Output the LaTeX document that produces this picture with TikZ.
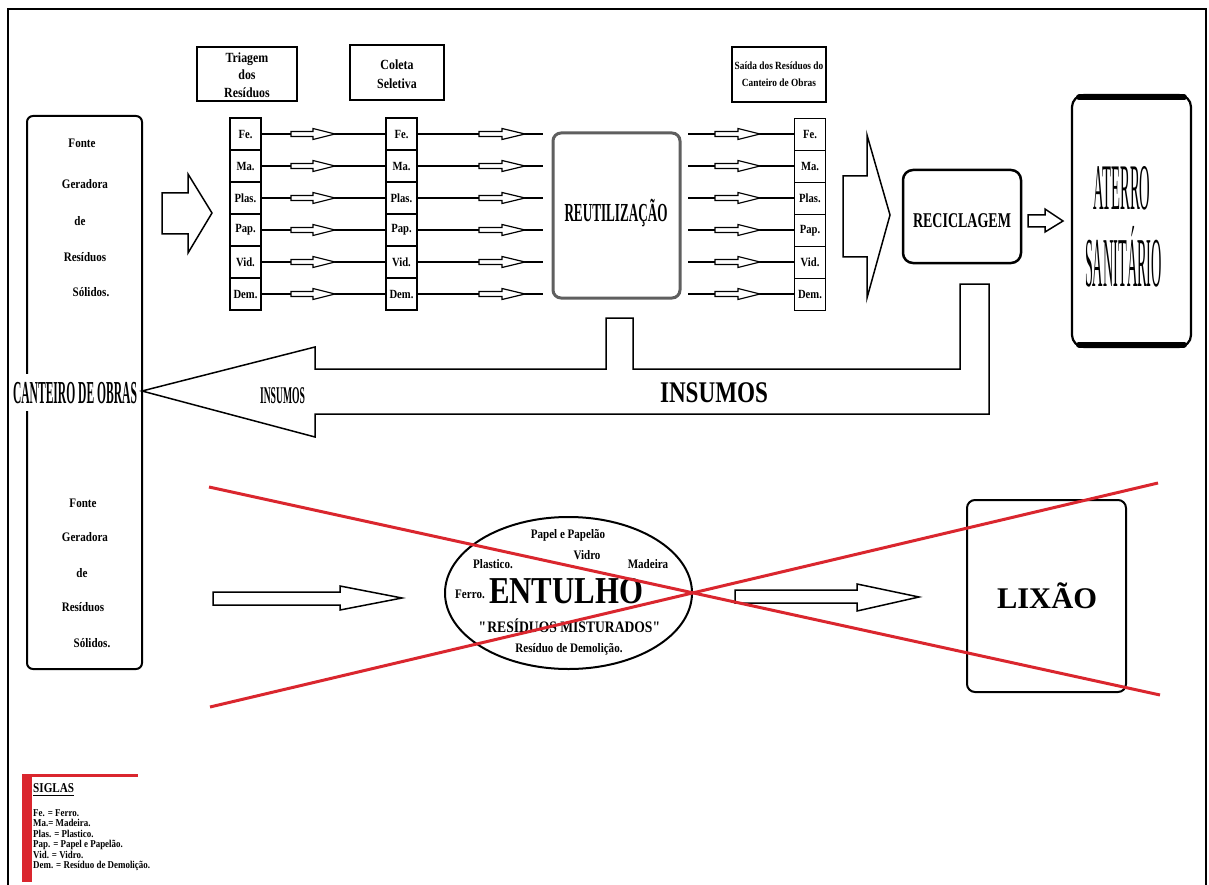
\documentclass[tikz,border=0pt]{standalone}
\usepackage{fontspec}
\setmainfont{Liberation Serif}
\newfontfamily\condfont[FakeStretch=0.85]{Liberation Serif}
\usepackage{graphicx}
\usetikzlibrary{shapes.geometric}
\definecolor{crossred}{RGB}{218,38,46}
\definecolor{reubox}{RGB}{95,95,95}
\newcommand{\ctext}[3]{\resizebox{#1pt}{\height}{\fontsize{#2}{#2}\selectfont #3}}
\newcommand{\harw}[4]{\draw[line width=1.2pt, fill=white, line join=miter] (#1,#4-2.5) -- (#2,#4-2.5) -- (#2,#4-5.5) -- (#3,#4) -- (#2,#4+5.5) -- (#2,#4+2.5) -- (#1,#4+2.5) -- cycle;}
\begin{document}
\begin{tikzpicture}[x=1pt,y=-1pt,
  cell/.style={draw, line width=1.5pt, minimum width=31pt, minimum height=32pt, inner sep=0pt, font=\condfont\fontsize{12.5}{12.5}\selectfont\bfseries},
  tbox/.style={draw, line width=2pt, inner sep=0pt},
  blk/.style={draw, line width=1.5pt, fill=white, line join=miter},
  flow/.style={line width=1.5pt},
  lbl/.style={inner sep=0pt, font=\condfont\fontsize{13}{13}\selectfont\bfseries},
  basetext/.style={anchor=base, inner sep=0pt},
  cross/.style={draw=crossred, line width=3pt},
  legend/.style={anchor=base west, inner sep=0pt, font=\condfont\fontsize{10.5}{10.5}\selectfont\bfseries}]
\useasboundingbox (0,0) rectangle (1209,885);
\fill[white] (0,0) rectangle (1209,885);
% outer frame
\draw[line width=2pt] (8,885) -- (8,9) -- (1206,9) -- (1206,885);

% title boxes
\node[tbox, minimum width=100pt, minimum height=54pt] (triagem) at (247,74) {};
\node[inner sep=0pt, align=center, font=\condfont\fontsize{14}{17.5}\selectfont\bfseries] at ([yshift=-1pt]triagem.center) {Triagem\\dos\\Resíduos};
\node[tbox, minimum width=94pt, minimum height=55pt] (coleta) at (397,72.5) {};
\node[inner sep=0pt, align=center, font=\condfont\fontsize{14}{19}\selectfont\bfseries] at ([yshift=-2pt]coleta.center) {Coleta\\Seletiva};
\node[tbox, minimum width=94pt, minimum height=55pt] (saida) at (779,74.5) {};
\node[inner sep=0pt, align=center, font=\condfont\fontsize{11}{17}\selectfont\bfseries] at (saida.center) {Saída dos Resíduos do\\Canteiro de Obras};

% left source box
\node[draw, line width=2pt, rounded corners=6pt, minimum width=115pt, minimum height=553pt] (fonte) at (84.5,392.5) {};
\node[lbl] at (82,143) {Fonte};
\node[lbl] at (85,184) {Geradora};
\node[lbl] at (80,221) {de};
\node[lbl] at (85,257) {Resíduos};
\node[lbl] at (91,292) {Sólidos.};
\node[lbl] at (83,503) {Fonte};
\node[lbl] at (85,537) {Geradora};
\node[lbl] at (82,573) {de};
\node[lbl] at (83,607) {Resíduos};
\node[lbl] at (92,643) {Sólidos.};
\node[basetext, fill=white, inner xsep=1pt, inner ysep=8pt] (canteiro) at (75,403) {\ctext{124}{32}{\bfseries CANTEIRO DE OBRAS}};

% first block arrow
\draw[blk] (162,193) -- (188,193) -- (188,174) -- (212,213) -- (188,253) -- (188,234) -- (162,234) -- cycle;

% columns and flows
\foreach \lab [count=\i, evaluate=\i as \yy using 102+32*\i] in {Fe.,Ma.,Plas.,Pap.,Vid.,Dem.} {
  \node[cell] (t\i) at (245.5,\yy) {\lab};
  \node[cell] (c\i) at (401.5,\yy) {\lab};
  \node[cell] (s\i) at (810,\yy+0.5) {\lab};
  \coordinate (r\i) at (543,\yy);
  \coordinate (q\i) at (688,\yy);
  \draw[flow] (t\i.east) -- (c\i.west);
  \draw[flow] (c\i.east) -- (r\i);
  \draw[flow] (q\i) -- (s\i.west |- q\i);
  \harw{291}{313}{335}{\yy}
  \harw{479}{502}{525}{\yy}
  \harw{715}{738}{760}{\yy}
}

% reutilizacao
\node[draw=reubox, line width=3pt, rounded corners=8pt, minimum width=127pt, minimum height=165pt] (reu) at (616.5,215.5) {};
\node[basetext] at (616,222) {\ctext{103}{26}{\bfseries REUTILIZAÇÃO}};

% big right arrow
\draw[blk] (843,176) -- (867,176) -- (867,135) -- (890,215) -- (867,298) -- (867,257) -- (843,257) -- cycle;

% reciclagem
\node[draw, line width=2.5pt, rounded corners=10pt, minimum width=118pt, minimum height=93pt] (recic) at (962,216.5) {};
\node[basetext] at (962,228) {\ctext{98}{21}{\bfseries RECICLAGEM}};

% small arrow to aterro
\draw[blk] (1028,215) -- (1045,215) -- (1045,209) -- (1063,221) -- (1045,232) -- (1045,227) -- (1028,227) -- cycle;

% aterro sanitario
\node[draw, line width=2.2pt, rounded corners=12pt, minimum width=119pt, minimum height=252pt] (aterro) at (1131.5,221) {};
\draw[line width=6pt, line cap=round] (1079,97.5) -- (1184,97.5);
\draw[line width=6pt, line cap=round] (1079,344.5) -- (1184,344.5);
\node[basetext] at (1122,210) {\ctext{57}{65}{ATERRO}};
\node[basetext] at (1123.5,287) {\ctext{77}{70}{SANITÁRIO}};

% insumos return arrow
\draw[blk] (142,391) -- (315,347) -- (315,369) -- (606,369) -- (606,318) -- (633,318) -- (633,369) -- (960,369) -- (960,284) -- (989,284) -- (989,414) -- (315,414) -- (315,437) -- cycle;
\node[basetext] at (282.5,403) {\ctext{45}{24}{\bfseries INSUMOS}};
\node[basetext] at (714,402) {\ctext{108}{30}{\bfseries INSUMOS}};

% lower section
\draw[blk] (213,592) -- (340,592) -- (340,586) -- (402,598) -- (340,610) -- (340,605) -- (213,605) -- cycle;
\node[draw, ellipse, line width=2pt, minimum width=247pt, minimum height=152pt, inner sep=0pt] (entulho) at (568.5,593) {};
\node[lbl] at (568,535) {Papel e Papelão};
\node[lbl] at (587,555) {Vidro};
\node[lbl] at (493,564) {Plastico.};
\node[lbl] at (648,564) {Madeira};
\node[lbl] at (470,594) {Ferro.};
\node[basetext] at (566,603) {\ctext{154}{38}{\bfseries ENTULHO}};
\node[inner sep=0pt, font=\condfont\fontsize{16}{16}\selectfont\bfseries] at (570,626) {\textquotedbl RESÍDUOS MISTURADOS\textquotedbl};
\node[lbl] at (569,649) {Resíduo de Demolição.};

\draw[blk] (735,590) -- (857,590) -- (857,584) -- (919,597) -- (857,611) -- (857,603) -- (735,603) -- cycle;
\node[draw, line width=2pt, rounded corners=8pt, minimum width=159pt, minimum height=192pt] (lixao) at (1046.5,596) {};
\node[basetext] at (1047,608) {\ctext{100}{30}{\bfseries LIXÃO}};

% red cross
\coordinate (x1a) at (209,487);
\coordinate (x1b) at (1160,695);
\coordinate (x2a) at (210,707);
\coordinate (x2b) at (1158,483);
\draw[cross] (x1a) -- (x1b);
\draw[cross] (x2a) -- (x2b);

% legend
\fill[crossred] (22,774) rectangle (32,882);
\draw[crossred, line width=3pt] (22,775.5) -- (138,775.5);
\node[anchor=base west, inner sep=0pt] (siglas) at (33,792) {\ctext{41}{13.5}{\bfseries SIGLAS}};
\draw[line width=0.9pt] (33,795.5) -- (74,795.5);
\node[legend] at (33,816) {Fe. = Ferro.};
\node[legend] at (33,826.5) {Ma.= Madeira.};
\node[legend] at (33,837) {Plas. = Plastico.};
\node[legend] at (33,847.5) {Pap. = Papel e Papelão.};
\node[legend] at (33,858) {Vid. = Vidro.};
\node[legend] at (33,868.5) {Dem. = Resíduo de Demolição.};
\end{tikzpicture}
\end{document}
